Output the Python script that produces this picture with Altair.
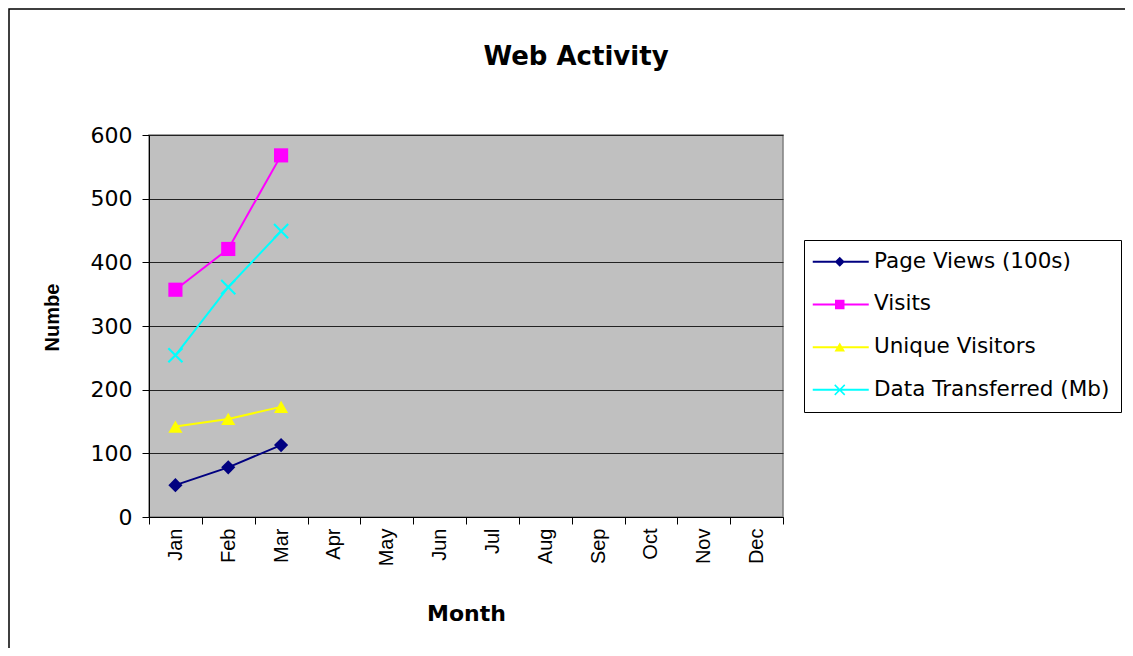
import altair as alt
import pandas as pd

months = ["Jan", "Feb", "Mar", "Apr", "May", "Jun", "Jul", "Aug", "Sep", "Oct", "Nov", "Dec"]
data_months = ["Jan", "Feb", "Mar"]
series_names = ["Page Views (100s)", "Visits", "Unique Visitors", "Data Transferred (Mb)"]
page_views = [50, 78, 113]
visits = [357, 421, 568]
unique_visitors = [142, 154, 173]
data_transferred = [254, 361, 449]
colors = ["#000080", "#FF00FF", "#FFFF00", "#00FFFF"]
y_ticks = [0, 100, 200, 300, 400, 500, 600]

# marker shapes in the plot
x_path = ("M-1.106,-0.894L-0.894,-1.106L1.106,0.894L0.894,1.106Z"
          "M-1.106,0.894L0.894,-1.106L1.106,-0.894L-0.894,1.106Z")
plot_shapes = ["diamond", "square", "triangle-up", x_path]

# legend glyphs: a line segment with the marker in its middle
seg = "M-1,-0.2H10.2V0.2H-1Z"
legend_shapes = [
    seg + "M4.4,-1L5.4,0L4.4,1L3.4,0Z",
    seg + "M3.45,-0.95H5.35V0.95H3.45Z",
    seg + "M4.4,-0.95L5.45,0.85H3.35Z",
    seg + "M3.294,-0.894L3.506,-1.106L5.506,0.894L5.294,1.106Z"
          "M3.294,0.894L5.294,-1.106L5.506,-0.894L3.506,1.106Z",
]

rows = []
for name, vals in zip(series_names, [page_views, visits, unique_visitors, data_transferred]):
    for i, (m, v) in enumerate(zip(data_months, vals)):
        rows.append({"series": name, "month": m, "idx": i, "value": v})
df = pd.DataFrame(rows)

x_enc = alt.X("month:N", sort=months,
              scale=alt.Scale(type="band", domain=months, paddingInner=0, paddingOuter=0),
              axis=alt.Axis(title="Month", tickBand="extent", labelAngle=-90,
                            labelFont="Liberation Sans", labelFontSize=20, labelColor="black",
                            labelPadding=4, tickSize=7, tickColor="black", domainColor="black",
                            grid=False, titleFont="DejaVu Sans", titleFontSize=22,
                            titleFontWeight="bold", titleColor="black",
                            titleY=96, titleBaseline="middle"))
y_enc = alt.Y("value:Q",
              scale=alt.Scale(domain=[0, 600], nice=False),
              axis=alt.Axis(title="Numbe", values=y_ticks, labelFont="DejaVu Sans",
                            labelFontSize=22, labelColor="black", labelPadding=10,
                            tickSize=7, tickColor="black", domainColor="black",
                            grid=True, gridColor="#222222", gridWidth=1, gridOpacity=1,
                            titleFont="Liberation Sans", titleFontSize=20,
                            titleFontWeight="bold", titleColor="black",
                            titleX=-97, titleY=182, titleAngle=-90,
                            titleBaseline="middle", titleAlign="center"))

color_scale = alt.Scale(domain=series_names, range=colors)

base = alt.Chart(df)

lines = base.mark_line(strokeWidth=2).encode(
    x=x_enc, y=y_enc,
    color=alt.Color("series:N", scale=color_scale, legend=None),
    order=alt.Order("idx:Q"),
)

points = base.mark_point(filled=True, opacity=1, size=200).encode(
    x=x_enc, y=y_enc,
    color=alt.Color("series:N", scale=color_scale, legend=None),
    shape=alt.Shape("series:N", scale=alt.Scale(domain=series_names, range=plot_shapes), legend=None),
)

legend_layer = base.transform_filter("false").mark_point(filled=True, opacity=1, size=100).encode(
    x=x_enc, y=y_enc,
    color=alt.Color("series:N", scale=color_scale,
                    legend=alt.Legend(title=None, orient="none", legendX=655, legendY=105,
                                      direction="vertical", strokeColor="black",
                                      fillColor="white", padding=11,
                                      labelFont="DejaVu Sans", labelFontSize=21.5,
                                      labelColor="black", labelLimit=400, labelOffset=45.5,
                                      symbolOffset=-8,
                                      symbolSize=100, rowPadding=19.7,
                                      symbolStrokeWidth=0, symbolOpacity=1)),
    shape=alt.Shape("series:N", scale=alt.Scale(domain=series_names, range=legend_shapes)),
)

frame = alt.Chart(alt.Data(values=[{"f": 1}])).mark_rect(
    fillOpacity=0, stroke="black", strokeWidth=1.5
).encode(x=alt.value(-140), x2=alt.value(1200), y=alt.value(-126), y2=alt.value(800))

chart = alt.layer(frame, lines, points, legend_layer).resolve_scale(
    color="independent", shape="independent"
).properties(
    width=634, height=382,
    title=alt.TitleParams("Web Activity", font="DejaVu Sans", fontSize=26, fontWeight="bold",
                          color="black", anchor="middle", dx=110, offset=-83,
                          baseline="alphabetic"),
    autosize=alt.AutoSizeParams(type="none"),
    padding={"left": 141, "top": 127, "right": 342, "bottom": 131},
    background="white",
).configure_view(fill="#C0C0C0", stroke="#808080", strokeWidth=1.5)

chart.save("out.html", embed_options={"renderer": "svg", "actions": False})
